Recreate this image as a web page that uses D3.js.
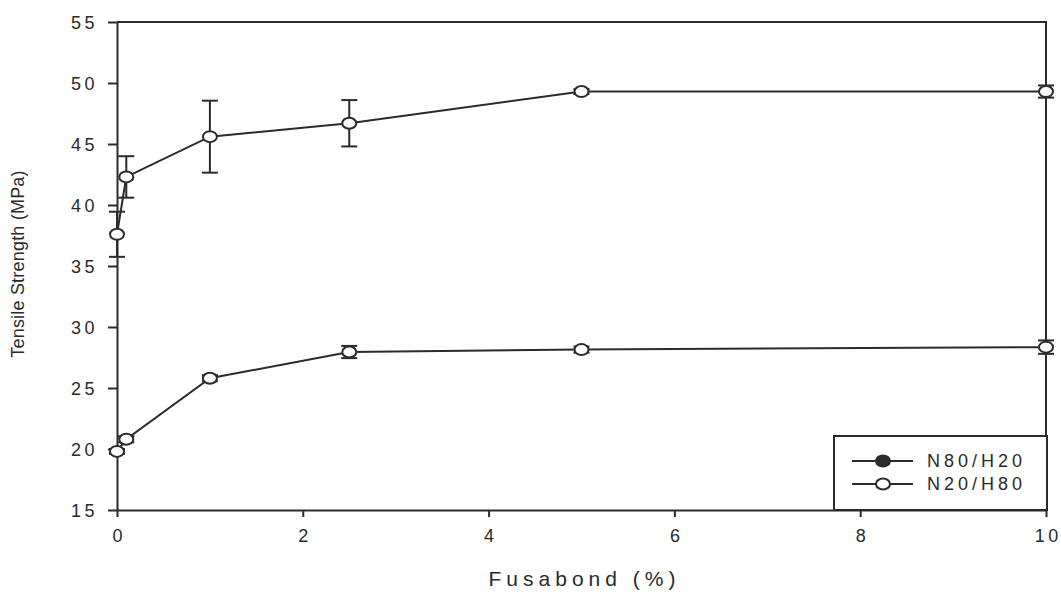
<!DOCTYPE html>
<html lang="en">
<head>
<meta charset="utf-8">
<title>Tensile Strength vs Fusabond</title>
<script src="https://d3js.org/d3.v7.min.js"></script>
<style>
    body { margin: 0; background: #fff; }
    text { font-family: "Liberation Sans", Arial, sans-serif; fill: #2b2b2b; }
</style>
</head>
<body>
<div id="chart"></div>
<script>

// Fusabond content (%)
const fusabond = [0, 0.1, 1, 2.5, 5, 10];

// N80/H20 (upper curve)
const upperMean = [37.6, 42.3, 45.6, 46.7, 49.3, 49.3];
const upperErr  = [1.85, 1.7, 2.95, 1.9, 0.2, 0.5];

// N20/H80 (lower curve)
const lowerMean = [19.8, 20.8, 25.8, 27.95, 28.15, 28.35];
const lowerErr  = [0.2, 0.25, 0.25, 0.5, 0.25, 0.55];

const xTicks = [0, 2, 4, 6, 8, 10];
const yTicks = [15, 20, 25, 30, 35, 40, 45, 50, 55];
const legendLabels = ["N80/H20", "N20/H80"];

const W = 1061, H = 592;
const margin = {top: 22, right: 15, bottom: 82, left: 117};
const width = W - margin.left - margin.right,
      height = H - margin.top - margin.bottom;

const ink = "#2b2b2b";

const svg = d3.select("#chart").append("svg")
    .attr("width", W)
    .attr("height", H);

const g = svg.append("g")
    .attr("transform", `translate(${margin.left},${margin.top})`);

const x = d3.scaleLinear().domain([0, 10]).range([0, width]);
const y = d3.scaleLinear().domain([15, 55]).range([height, 0]);

// frame (top + right)
g.append("path")
    .attr("d", `M0,0H${width}V${height}`)
    .attr("fill", "none")
    .attr("stroke", ink)
    .attr("stroke-width", 2);

// x axis
const xAxis = g.append("g")
    .attr("transform", `translate(0,${height})`)
    .call(d3.axisBottom(x).tickValues(xTicks).tickSize(7).tickPadding(12).tickSizeOuter(0));

// y axis
const yAxis = g.append("g")
    .call(d3.axisLeft(y).tickValues(yTicks).tickSize(9).tickPadding(10).tickSizeOuter(0));

[xAxis, yAxis].forEach(ax => {
    ax.select(".domain").attr("stroke", ink).attr("stroke-width", 2);
    ax.selectAll(".tick line").attr("stroke", ink).attr("stroke-width", 2);
    ax.selectAll(".tick text")
        .style("font-size", "18px")
        .style("letter-spacing", "3.5px")
        .attr("fill", ink);
});
yAxis.selectAll(".tick text").attr("dy", "0.36em");
xAxis.selectAll(".tick text").attr("dx", "1.75px");

// axis titles
svg.append("text")
    .attr("x", margin.left + width / 2 + 3)
    .attr("y", 586)
    .attr("text-anchor", "middle")
    .style("font-size", "21px")
    .style("letter-spacing", "5px")
    .text("Fusabond (%)");

svg.append("text")
    .attr("transform", `translate(24,${margin.top + height / 2 - 2}) rotate(-90)`)
    .attr("text-anchor", "middle")
    .style("font-size", "18px")
    .style("letter-spacing", "0.2px")
    .text("Tensile Strength (MPa)");

const line = d3.line()
    .x(d => x(d.x))
    .y(d => y(d.v));

function drawSeries(means, errs) {
    const pts = fusabond.map((f, i) => ({x: f, v: means[i], e: errs[i]}));
    const sg = g.append("g");

    sg.append("path")
        .datum(pts)
        .attr("d", line)
        .attr("fill", "none")
        .attr("stroke", ink)
        .attr("stroke-width", 2);

    const eb = sg.selectAll(".err").data(pts).join("g").attr("class", "err");
    eb.append("line")
        .attr("x1", d => x(d.x)).attr("x2", d => x(d.x))
        .attr("y1", d => y(d.v - d.e)).attr("y2", d => y(d.v + d.e));
    eb.append("line")
        .attr("x1", d => x(d.x) - 8).attr("x2", d => x(d.x) + 8)
        .attr("y1", d => y(d.v + d.e)).attr("y2", d => y(d.v + d.e));
    eb.append("line")
        .attr("x1", d => x(d.x) - 8).attr("x2", d => x(d.x) + 8)
        .attr("y1", d => y(d.v - d.e)).attr("y2", d => y(d.v - d.e));
    eb.selectAll("line").attr("stroke", ink).attr("stroke-width", 2);

    sg.selectAll("ellipse").data(pts).join("ellipse")
        .attr("cx", d => x(d.x))
        .attr("cy", d => y(d.v))
        .attr("rx", 7)
        .attr("ry", 5.5)
        .attr("fill", "#fff")
        .attr("stroke", ink)
        .attr("stroke-width", 2);
}

drawSeries(upperMean, upperErr);
drawSeries(lowerMean, lowerErr);

// legend
const lg = svg.append("g");
lg.append("rect")
    .attr("x", 834).attr("y", 436)
    .attr("width", 213).attr("height", 74)
    .attr("fill", "#fff")
    .attr("stroke", ink)
    .attr("stroke-width", 2);

const rows = lg.selectAll(".row").data(legendLabels).join("g")
    .attr("class", "row")
    .attr("transform", (d, i) => `translate(0,${461 + i * 23})`);

rows.append("line")
    .attr("x1", 852).attr("x2", 913)
    .attr("stroke", ink).attr("stroke-width", 2);
rows.append("ellipse")
    .attr("cx", 883).attr("rx", 7).attr("ry", 5.5)
    .attr("fill", (d, i) => i === 0 ? ink : "#fff")
    .attr("stroke", ink).attr("stroke-width", 2);
rows.append("text")
    .attr("x", 927).attr("dy", "0.36em")
    .style("font-size", "18px")
    .style("letter-spacing", "4px")
    .text(d => d);

</script>
</body>
</html>
